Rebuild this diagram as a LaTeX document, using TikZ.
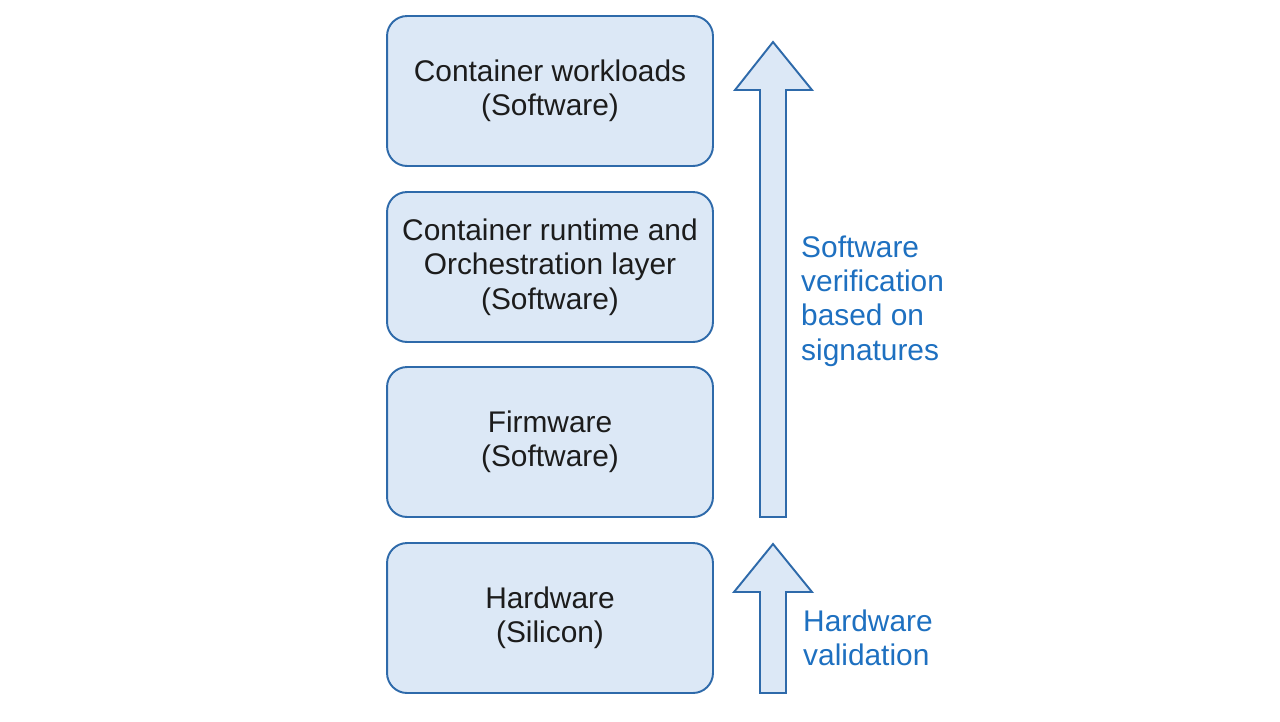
\documentclass[tikz,border=0pt]{standalone}
\usepackage{fontspec}
\setmainfont{Liberation Sans}
\usepackage{tikz}

\definecolor{layerfill}{RGB}{220,232,246}
\definecolor{layerline}{RGB}{46,106,170}
\definecolor{notetext}{RGB}{30,112,192}
\definecolor{boxtext}{RGB}{28,28,28}

\begin{document}
\begin{tikzpicture}[
		x=0.02cm, y=-0.02cm,
		every node/.style={align=center, font=\fontsize{17}{19.5}\selectfont},
		layer/.style={rectangle, draw=layerline, fill=layerfill, line width=1.1pt,
			rounded corners=0.4cm, minimum width=6.52cm, minimum height=3cm, text=boxtext},
		note/.style={align=left, anchor=west, text=notetext},
		bigarrow/.style={draw=layerline, fill=layerfill, line width=1.1pt}
	]
  \useasboundingbox (0,0) rectangle (1280,721);
  \node (workloads) [layer] at (550,91) {Container workloads\\(Software)};
  \node (runtime) [layer] at (550,267) {Container runtime and\\Orchestration layer\\(Software)};
  \node (firmware) [layer] at (550,442) {Firmware\\(Software)};
  \node (hardware) [layer] at (550,618) {Hardware\\(Silicon)};
  \draw [bigarrow] (760,517) -- (760,90) -- (735,90) -- (773,42) -- (812,90) -- (786,90) -- (786,517) -- cycle;
  \draw [bigarrow] (760,693) -- (760,592) -- (734,592) -- (773,544) -- (812,592) -- (786,592) -- (786,693) -- cycle;
  \node (sw_note) [note] at (795,301) {Software\\verification\\based on\\signatures};
  \node (hw_note) [note] at (797,638) {Hardware\\validation};
\end{tikzpicture}
\end{document}
